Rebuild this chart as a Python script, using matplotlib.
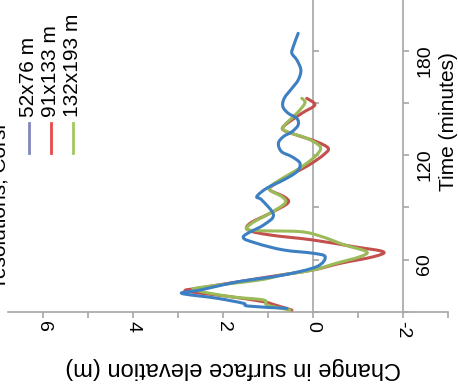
import matplotlib.pyplot as plt
from matplotlib.ticker import MultipleLocator
from matplotlib.lines import Line2D
from matplotlib.path import Path
from matplotlib.patches import PathPatch

plt.rcParams['font.family'] = ['Liberation Sans', 'DejaVu Sans']
plt.rcParams['axes.unicode_minus'] = False

# time (minutes) / change in surface elevation (m)
t_52 = [32.1, 33.4, 35.0, 37.9, 40.7, 42.6, 46.5, 48.4, 51.2, 56.0, 61.7, 63.7,
        65.6, 69.4, 73.2, 79.9, 85.7, 94.3, 96.2, 101.0, 105.7, 110.5, 115.3,
        119.1, 122.0, 126.8, 130.6, 133.4, 137.3, 141.1, 144.0, 147.8, 152.6,
        158.3, 163.1, 168.8, 174.6, 178.4, 182.2, 189.9]
e_52 = [0.58, 1.44, 1.55, 2.14, 2.92, 2.51, 1.84, 1.40, 0.66, -0.08, -0.27, 0.0,
        0.66, 1.25, 1.55, 1.10, 0.88, 1.14, 1.25, 1.03, 0.66, 0.36, 0.29,
        0.47, 0.70, 0.77, 0.66, 0.47, 0.33, 0.36, 0.55, 0.67, 0.64,
        0.47, 0.33, 0.27, 0.36, 0.47, 0.44, 0.33]

t_91 = [31.1, 34.0, 35.9, 38.8, 42.0, 43.8, 46.6, 51.2, 54.1, 57.9, 61.7, 64.6,
        67.5, 71.3, 74.2, 77.0, 80.9, 86.6, 92.5, 96.1, 100.0, 102.9, 107.6,
        111.5, 115.3, 120.1, 123.9, 127.7, 131.5, 134.4, 137.3, 144.0, 148.8,
        152.6]
e_91 = [0.47, 0.84, 1.10, 1.84, 2.82, 2.51, 1.84, 0.73, 0.0, -0.60, -1.34, -1.56,
        -0.90, 0.0, 0.96, 1.44, 1.40, 0.96, 0.56, 0.64, 0.96, 0.88, 0.58,
        0.29, 0.03, -0.23, -0.34, -0.08, 0.36, 0.66, 0.62, 0.25, -0.04,
        0.14]

t_132 = [31.1, 34.0, 36.9, 38.8, 42.6, 44.3, 48.4, 51.2, 54.1, 57.9, 61.7, 64.6,
         68.4, 73.2, 76.1, 77.0, 80.9, 86.6, 92.5, 96.1, 100.0, 102.9, 107.6,
         111.5, 115.3, 120.1, 124.8, 129.7, 133.4, 136.3, 144.0, 149.9, 152.6]
e_132 = [0.51, 1.02, 1.10, 1.84, 2.62, 2.44, 1.18, 0.69, 0.0, -0.51, -1.04, -1.19,
         -0.71, -0.20, 0.29, 1.40, 1.36, 0.96, 0.62, 0.69, 0.96, 0.91, 0.62,
         0.36, 0.14, -0.08, -0.16, 0.14, 0.58, 0.66, 0.36, 0.18, 0.25]

names = ['52x76 m', '91x133 m', '132x193 m']
line_colors = ['#3d7fc3', '#c4504d', '#9bbb59']
key_colors = ['#8186bd', '#e8474c', '#a2c95e']
grey = '#a6a6a6'


def smoothed(xs, ys):
    # excel style smoothed line through the points (bezier segments)
    pts = list(zip(xs, ys))
    n = len(pts)
    verts = [pts[0]]
    codes = [Path.MOVETO]
    for i in range(n - 1):
        p0 = pts[max(i - 1, 0)]
        p1 = pts[i]
        p2 = pts[i + 1]
        p3 = pts[min(i + 2, n - 1)]
        c1 = (p1[0] + (p2[0] - p0[0]) / 6, p1[1] + (p2[1] - p0[1]) / 6)
        c2 = (p2[0] - (p3[0] - p1[0]) / 6, p2[1] - (p3[1] - p1[1]) / 6)
        verts += [c1, c2, p2]
        codes += [Path.CURVE4] * 3
    return Path(verts, codes)


fig = plt.figure(figsize=(4.58, 3.86), dpi=100)
ax = fig.add_axes([8/458, 74/386, 440/458, 312/386])

series = [(e_91, t_91, 1), (e_132, t_132, 2), (e_52, t_52, 0)]
for z, (e, t, c) in enumerate(series):
    ax.add_patch(PathPatch(smoothed(e, t), fill=False, edgecolor=line_colors[c],
                           lw=2.2, joinstyle='round', capstyle='round',
                           zorder=3 + z))

ax.set_xlim(6.78, -3)
ax.set_ylim(30, 209)

for s in ['top', 'left']:
    ax.spines[s].set_visible(False)
ax.spines['right'].set_position(('data', -2))
for s in ['right', 'bottom']:
    ax.spines[s].set_color(grey)
    ax.spines[s].set_linewidth(1.2)

ax.xaxis.set_major_locator(MultipleLocator(2))
ax.xaxis.set_minor_locator(MultipleLocator(1))
ax.tick_params(axis='x', which='both', direction='out', length=4.5, width=1.2,
               color=grey)
ax.tick_params(axis='x', labelsize=14, pad=2, labelrotation=270)

ax.yaxis.tick_right()
ax.yaxis.set_major_locator(MultipleLocator(60))
ax.yaxis.set_minor_locator(MultipleLocator(30))
ax.tick_params(axis='y', which='both', direction='out', length=4.5, width=1.2,
               color=grey)
ax.tick_params(axis='y', labelsize=14, pad=5, labelrotation=90)

# time axis crossing at zero elevation
sec = ax.secondary_yaxis(0, transform=ax.transData)
sec.set_alignment('right')
sec.yaxis.set_major_locator(MultipleLocator(30))
sec.tick_params(direction='out', length=4.5, width=1.2, color=grey,
                labelright=False, labelleft=False)
sec.spines['right'].set_color(grey)
sec.spines['right'].set_linewidth(1.2)

ax.set_xlabel('Change in surface elevation (m)', fontsize=17, rotation=180)
ax.xaxis.set_label_coords(0.511, -0.18)
ax.xaxis.label.set_va('center')

ax.set_ylabel('Time (minutes)', fontsize=15, rotation=90)
ax.yaxis.set_label_position('right')
ax.yaxis.set_label_coords(1.002, 0.609)
ax.yaxis.label.set_ha('center')
ax.yaxis.label.set_va('center')

# legend, drawn sideways like the rest of the chart
fig.text(0.5/458, (386-285)/386, 'resolutions, Corsi', rotation=90,
         ha='center', va='bottom', fontsize=15)
for i, name in enumerate(names):
    x = (29 + 22*i)/458
    fig.add_artist(Line2D([x, x], [(386-153)/386, (386-123)/386],
                          transform=fig.transFigure, color=key_colors[i], lw=2))
    fig.text(x, (386-117)/386, name, rotation=90, ha='center', va='bottom',
             fontsize=15)

fig.savefig('out.png', dpi=100)
